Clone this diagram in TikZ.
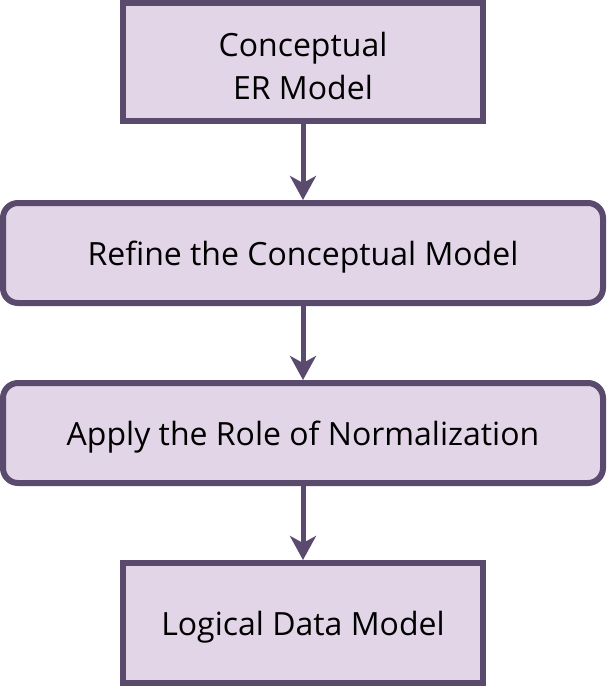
\documentclass[tikz,border=0pt]{standalone}
\usepackage{fontspec}
\setmainfont{Open Sans}
\usetikzlibrary{arrows.meta}
\definecolor{strokec}{HTML}{5A4A6E}
\definecolor{fillc}{HTML}{E1D5E7}
\begin{document}
\begin{tikzpicture}[x=1pt,y=-1pt,
  boxs/.style={draw=strokec,fill=fillc,line width=6pt},
  lbl/.style={font=\fontsize{32}{43}\selectfont,align=center,text=black},
  conn/.style={draw=strokec,line width=5pt,-{Stealth[length=24pt,width=26pt,inset=7pt]}}]
\useasboundingbox (0,0) rectangle (606,686);
\path[boxs] (123,3) rectangle (483,121);
\node[lbl] (b1) at (303,66) {Conceptual\\ER Model};
\path[boxs,rounded corners=15pt] (3,203) rectangle (603,303);
\node[lbl] (b2) at (303,257) {Refine the Conceptual Model};
\path[boxs,rounded corners=15pt] (3,383) rectangle (603,483);
\node[lbl] (b3) at (303,437) {Apply the Role of Normalization};
\path[boxs] (123,563) rectangle (483,683);
\node[lbl] (b4) at (303,627) {Logical Data Model};
\coordinate (a1) at (303,124); \coordinate (e1) at (303,200);
\coordinate (a2) at (303,306); \coordinate (e2) at (303,380);
\coordinate (a3) at (303,486); \coordinate (e3) at (303,560);
\draw[conn] (a1) -- (e1);
\draw[conn] (a2) -- (e2);
\draw[conn] (a3) -- (e3);
\end{tikzpicture}
\end{document}
